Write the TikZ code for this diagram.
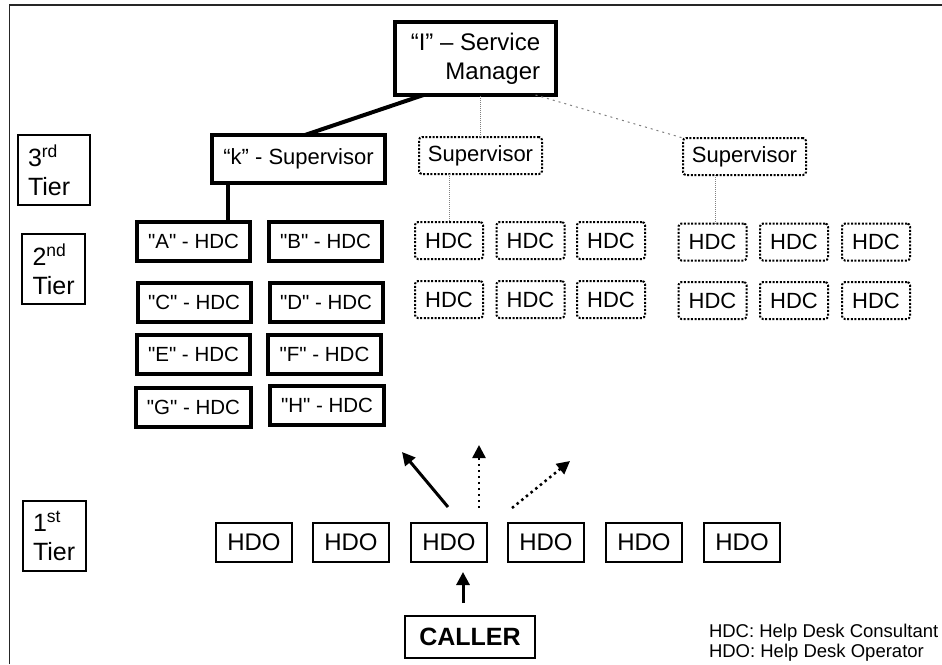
\documentclass[tikz,border=0pt]{standalone}
\usepackage{fontspec}
\setmainfont{Liberation Sans}[Ligatures=TeXOff]
\usetikzlibrary{arrows.meta}
\begin{document}
\begin{tikzpicture}[x=1pt,y=-1pt,
  every node/.style={inner sep=0pt, outer sep=0pt},
  heavybox/.style={draw, line width=4pt, minimum width=113pt, minimum height=39pt, font=\fontsize{20.5}{23}\selectfont},
  tierbox/.style={draw, line width=2pt, minimum width=63pt, minimum height=70pt, align=left, font=\fontsize{25}{29}\selectfont},
  dotbox/.style={draw, line width=2pt, dash pattern=on 2pt off 1.6pt, rounded corners=3pt, minimum height=37pt, font=\fontsize{22}{24}\selectfont},
  hdc/.style={dotbox, minimum width=68pt},
  hdo/.style={draw, line width=1.8pt, minimum width=76pt, minimum height=39pt, font=\fontsize{24}{26}\selectfont},
  faint/.style={draw=gray, line width=1pt, dash pattern=on 1pt off 1pt},
  sparse/.style={draw=gray, line width=1pt, dash pattern=on 2pt off 4pt},
  strong/.style={line width=4pt},
  callarrow/.style={line width=3pt, -{Triangle[length=13pt,width=13pt]}},
  dotarrow/.style={line width=2.5pt, dash pattern=on 2.5pt off 3.5pt, -{Triangle[length=13pt,width=13pt]}},
  legend/.style={anchor=base west, font=\fontsize{18.5}{22}\selectfont},
]
\useasboundingbox (0,0) rectangle (942,664);
\fill[white] (0,0) rectangle (942,664);
% frame
\draw[line width=1.5pt, black!85] (9.5,664) -- (9.5,5) -- (942,5);

% tier labels
\node[tierbox, minimum width=72pt, text width=52pt] (t3) at (54,170) {3\textsuperscript{rd}\\Tier};
\node[tierbox, text width=42pt] (t2) at (53.5,269) {2\textsuperscript{nd}\\Tier};
\node[tierbox, text width=42pt] (t1) at (54,535.5) {1\textsuperscript{st}\\Tier};

% manager and k supervisor
\node[heavybox, minimum width=161pt, minimum height=73pt, align=right, font=\fontsize{24}{29}\selectfont] (mgr) at (475.5,58.5) {“I” – Service\\Manager};
\node[heavybox, minimum width=173pt, minimum height=48pt, font=\fontsize{22}{25}\selectfont] (ksup) at (298.5,159) {“k” - Supervisor};

% named HDCs
\node[heavybox] (hA) at (193.5,241.5) {"A" - HDC};
\node[heavybox] (hB) at (325.5,241.5) {"B" - HDC};
\node[heavybox] (hC) at (194,302) {"C" - HDC};
\node[heavybox] (hD) at (326,302) {"D" - HDC};
\node[heavybox] (hE) at (193.5,354.5) {"E" - HDC};
\node[heavybox] (hF) at (324.5,354.5) {"F" - HDC};
\node[heavybox, minimum width=115pt] (hG) at (193.5,407) {"G" - HDC};
\node[heavybox, minimum width=114pt] (hH) at (327,405) {"H" - HDC};

% dotted supervisors
\node[dotbox, minimum width=123pt] (s1) at (480.5,155.5) {Supervisor};
\node[dotbox, minimum width=123pt] (s2) at (744.5,156.5) {Supervisor};

% dotted HDC grid 1
\node[hdc] (g11) at (449,240.5) {HDC};
\node[hdc] (g12) at (530.5,240.5) {HDC};
\node[hdc] (g13) at (611,240.5) {HDC};
\node[hdc] (g14) at (449,299.5) {HDC};
\node[hdc] (g15) at (530.5,299.5) {HDC};
\node[hdc] (g16) at (611,299.5) {HDC};
% dotted HDC grid 2
\node[hdc] (g21) at (712.5,242) {HDC};
\node[hdc] (g22) at (794,242) {HDC};
\node[hdc] (g23) at (876,242) {HDC};
\node[hdc] (g24) at (712.5,300.5) {HDC};
\node[hdc] (g25) at (794,300.5) {HDC};
\node[hdc] (g26) at (876,300.5) {HDC};

% HDOs
\node[hdo] (o1) at (254,542.5) {HDO};
\node[hdo] (o2) at (351,542.5) {HDO};
\node[hdo] (o3) at (449,542.5) {HDO};
\node[hdo] (o4) at (546,542.5) {HDO};
\node[hdo] (o5) at (644,542.5) {HDO};
\node[hdo] (o6) at (742,542.5) {HDO};

% caller
\node[draw, line width=2.6pt, minimum width=130pt, minimum height=42pt, font=\bfseries\fontsize{25}{28}\selectfont] (caller) at (470,637) {CALLER};

% connectors
\draw[strong] ([xshift=6.5pt]ksup.north) -- ([xshift=-52pt]mgr.south);
\draw[strong] ([xshift=-70.5pt]ksup.south) -- ([xshift=-70.5pt]ksup.south |- hA.north);
\draw[faint] (s1.north) -- (s1.north |- mgr.south);
\draw[sparse] ([xshift=60pt]mgr.south) -- (s2.north west);
\draw[faint] (s1.south -| g11.north) -- (g11.north);
\draw[faint] ([xshift=3pt]g21.north |- s2.south) -- ([xshift=3pt]g21.north);

% arrows
\coordinate (a1s) at (448,507);
\coordinate (a1e) at (402,452);
\coordinate (a2s) at (479,508);
\coordinate (a2e) at (479,445);
\coordinate (a3s) at (512,508);
\coordinate (a3e) at (570,461);
\coordinate (cs) at (463,603);
\coordinate (ce) at (463,572);
\draw[callarrow] (a1s) -- (a1e);
\draw[dotarrow] (a2s) -- (a2e);
\draw[dotarrow] (a3s) -- (a3e);
\draw[callarrow] (cs) -- (ce);

% legend
\node[legend] (l1) at (709,637) {HDC: Help Desk Consultant};
\node[legend] (l2) at (709,657) {HDO: Help Desk Operator};
\end{tikzpicture}
\end{document}
